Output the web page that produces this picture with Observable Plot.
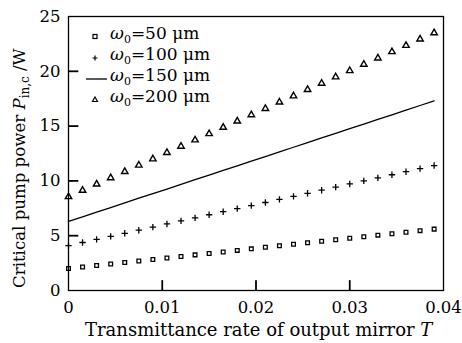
<!DOCTYPE html>
<html><head><meta charset="utf-8">
<script src="https://cdn.jsdelivr.net/npm/d3@7"></script>
<script src="https://cdn.jsdelivr.net/npm/@observablehq/plot@0.6"></script>
<style>
body{margin:0;background:#fff;}
#wrap{position:relative;width:462px;height:343px;font-family:"DejaVu Serif",serif;}
#legend{position:absolute;left:86px;top:26px;font-size:17px;line-height:21px;color:#000;}
#legend .row{display:flex;align-items:center;height:21px;}
#legend svg{width:21px;height:14px;margin-right:3px;}
</style></head>
<body><div id="wrap"></div>
<script>
const T = [0,0.0015,0.003,0.0045,0.006,0.0075,0.009,0.0105,0.012,0.0135,0.015,0.0165,0.018,0.0195,0.021,0.0225,0.024,0.0255,0.027,0.0285,0.03,0.0315,0.033,0.0345,0.036,0.0375,0.039];
const p50 = [2.00,2.14,2.28,2.42,2.55,2.69,2.83,2.97,3.11,3.25,3.38,3.52,3.66,3.80,3.94,4.08,4.22,4.35,4.49,4.63,4.77,4.91,5.05,5.18,5.32,5.46,5.60];
const p100 = [4.10,4.38,4.66,4.94,5.22,5.50,5.78,6.07,6.35,6.63,6.91,7.19,7.47,7.75,8.03,8.31,8.59,8.87,9.15,9.43,9.72,10.00,10.28,10.56,10.84,11.12,11.40];
const p150 = [6.30,6.72,7.15,7.57,7.99,8.42,8.84,9.26,9.68,10.11,10.53,10.95,11.38,11.80,12.22,12.65,13.07,13.49,13.92,14.34,14.76,15.18,15.61,16.03,16.45,16.88,17.30];
const p200 = [8.55,9.13,9.70,10.28,10.85,11.43,12.00,12.58,13.15,13.73,14.30,14.88,15.45,16.03,16.60,17.18,17.75,18.33,18.90,19.48,20.05,20.63,21.20,21.78,22.35,22.93,23.50];
const xTicks = [0,0.01,0.02,0.03,0.04];
const yTicks = [0,5,10,15,20,25];
const legendLabels = ["50","100","150","200"];

const d50 = T.map((t,i)=>({t,p:p50[i]}));
const d100 = T.map((t,i)=>({t,p:p100[i]}));
const d150 = T.map((t,i)=>({t,p:p150[i]}));
const d200 = T.map((t,i)=>({t,p:p200[i]}));

const W = 462, H = 343, mL = 68, mR = 19, mT = 16, mB = 53;
const xDom = [0,0.04], yDom = [0,25];
const innerXTicks = xTicks.slice(1,-1).map(v=>({v}));
const innerYTicks = yTicks.slice(1,-1).map(v=>({v}));

const chart = Plot.plot({
  width:W, height:H,
  marginLeft:mL, marginRight:mR, marginTop:mT, marginBottom:mB,
  style:{fontFamily:"DejaVu Serif, serif", fontSize:"16px", color:"#000", background:"#fff"},
  x:{domain:xDom, ticks:xTicks, tickFormat:d=>d===0?"0":String(d)},
  y:{domain:yDom, ticks:yTicks},
  marks:[
    Plot.frame({stroke:"#000", strokeWidth:1.3}),
    Plot.axisX({ticks:xTicks, tickSize:0, tickPadding:11, tickFormat:d=>d===0?"0":String(d), label:null, fontSize:16.5}),
    Plot.axisY({ticks:yTicks, tickSize:0, tickPadding:8, label:null, fontSize:16.5}),
    Plot.ruleX(innerXTicks, {x:"v", y1:()=>0, y2:()=>0.9, stroke:"#000", strokeWidth:1.8}),
    Plot.ruleY(innerYTicks, {y:"v", x1:()=>0, x2:()=>0.0011, stroke:"#000", strokeWidth:1.8}),
    Plot.line(d150,{x:"t",y:"p",stroke:"#000",strokeWidth:1.3}),
    Plot.dot(d50,{x:"t",y:"p",symbol:"square",r:2.1,stroke:"#000",fill:"none",strokeWidth:1.3}),
    Plot.dot(d100,{x:"t",y:"p",symbol:"plus",r:2.2,stroke:"#000",fill:"none",strokeWidth:1.3}),
    Plot.dot(d200,{x:"t",y:"p",symbol:"triangle",r:2.4,stroke:"#000",fill:"none",strokeWidth:1.4})
  ]
});
const wrap = document.getElementById("wrap");
wrap.appendChild(chart);
const svg = d3.select(chart);

const xt = svg.append("text").attr("x",85).attr("y",336).attr("text-anchor","start")
  .attr("font-size",18).attr("font-family","DejaVu Serif, serif").attr("fill","#000");
xt.append("tspan").text("Transmittance rate of output mirror ");
xt.append("tspan").attr("font-style","italic").text("T");
const yt = svg.append("text").attr("transform","translate(25,288) rotate(-90)").attr("text-anchor","start")
  .attr("font-size",16.6).attr("font-family","DejaVu Serif, serif").attr("fill","#000");
yt.append("tspan").text("Critical pump power ");
yt.append("tspan").attr("font-style","italic").text("P");
yt.append("tspan").attr("font-size",12).attr("dy",4).text("in,c");
yt.append("tspan").attr("dy",-4).text(" /W");

const leg = document.createElement("div");
leg.id = "legend";
const syms = [
  '<rect x="7" y="4.5" width="4" height="4" fill="none" stroke="#000" stroke-width="1.2"/>',
  '<path d="M9 4.5V9.5M6.5 7H11.5" stroke="#000" stroke-width="1.2"/>',
  '<path d="M0 7H21" stroke="#000" stroke-width="1.3"/>',
  '<path d="M9 4L11.5 8.5H6.5Z" fill="none" stroke="#000" stroke-width="1.2"/>'
];
legendLabels.forEach((v,i)=>{
  const r = document.createElement("div");
  r.className="row";
  r.innerHTML = `<svg viewBox="0 0 21 14">${syms[i]}</svg><span><i>ω</i><sub style="font-size:11px">0</sub>=${v} μm</span>`;
  leg.appendChild(r);
});
wrap.appendChild(leg);
</script></body></html>
